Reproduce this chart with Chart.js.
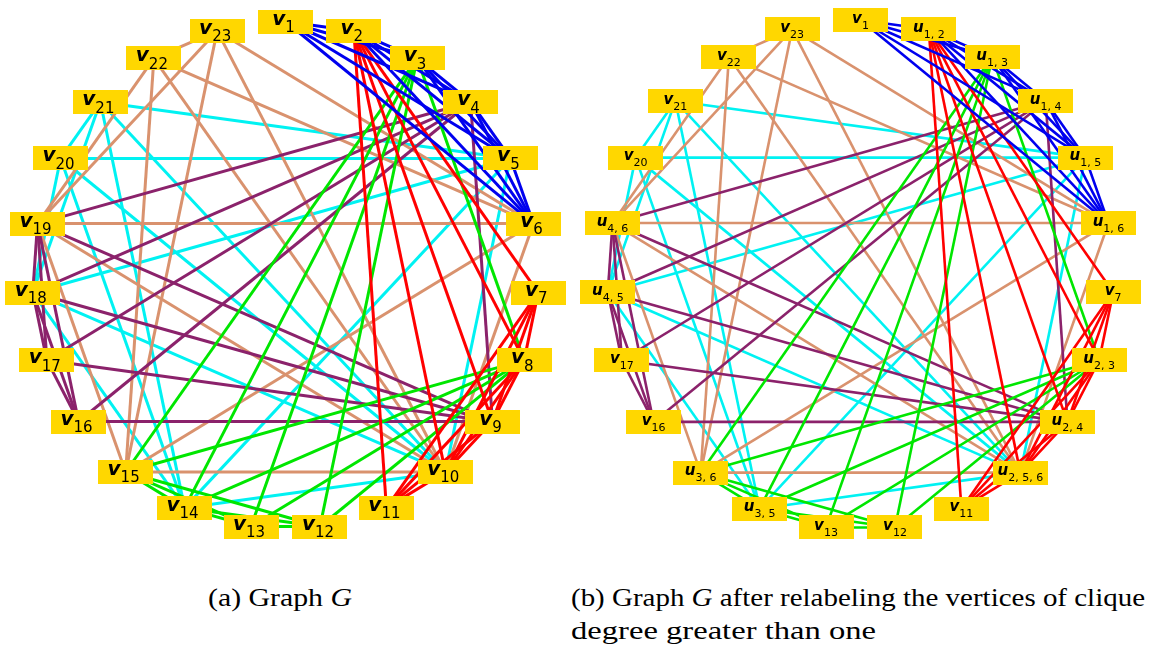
<!DOCTYPE html>
<html><head><meta charset="utf-8">
<script src="https://cdn.jsdelivr.net/npm/chart.js@4.4.1/dist/chart.umd.min.js"></script>
<style>
html,body{margin:0;padding:0;background:#fff;width:1151px;height:647px;overflow:hidden;position:relative;}
canvas{position:absolute;top:0;}
#cl{left:0}
#cr{left:575px}
.cap{position:absolute;font-family:"Liberation Serif","DejaVu Serif",serif;font-size:26px;white-space:nowrap;transform-origin:0 0;color:#000;line-height:1}
</style></head><body>
<canvas id="cl" width="575" height="560"></canvas>
<canvas id="cr" width="576" height="560"></canvas>
<div class="cap" id="capA" style="left:208px;top:585px">(a) Graph <i>G</i></div>
<div class="cap" id="capB1" style="left:571px;top:585px">(b) Graph <i>G</i> after relabeling the vertices of clique</div>
<div class="cap" id="capB2" style="left:571px;top:618px">degree greater than one</div>
<script>
// ---- data ----
const leftLabels = ['v1','v2','v3','v4','v5','v6','v7','v8','v9','v10','v11','v12','v13','v14','v15','v16','v17','v18','v19','v20','v21','v22','v23'];
const rightLabels = ['v1','u1, 2','u1, 3','u1, 4','u1, 5','u1, 6','v7','u2, 3','u2, 4','u2, 5, 6','v11','v12','v13','u3, 5','u3, 6','v16','v17','u4, 5','u4, 6','v20','v21','v22','v23'];
// cliques (vertex numbers, 1-based)
const cliques = [
  [1,2,3,4,5,6],
  [2,7,8,9,10,11],
  [3,8,12,13,14,15],
  [4,9,16,17,18,19],
  [5,10,14,18,20,21],
  [6,10,15,19,22,23]
];
const cliqueColors = ['#0000ee','#ff0000','#00e600','#8b226b','#00f2f2','#d9926e'];
const cliqueLayer = [0,1,2,3,5,4]; // lower = drawn on top
const captions = ['(a) Graph G','(b) Graph G after relabeling the vertices of clique','degree greater than one'];

// ---- circular layout (unit circle, vertex 1 at top, clockwise) ----
const N = leftLabels.length;
function nodePos(k){ const a = (k-1)*2*Math.PI/N; return {x:Math.sin(a), y:Math.cos(a)}; }

function buildDatasets(lw){
  const ds = [];
  cliques.forEach((cl,ci)=>{
    for(let i=0;i<cl.length;i++) for(let j=i+1;j<cl.length;j++){
      ds.push({
        data:[nodePos(cl[i]), nodePos(cl[j])],
        showLine:true, borderColor:cliqueColors[ci], borderWidth:lw,
        pointRadius:0, pointHoverRadius:0, order:cliqueLayer[ci], clip:false,
        borderCapStyle:'butt'
      });
    }
  });
  return ds;
}

function labelPlugin(labels, cfg){
  return {
    id:'nodeLabels',
    afterDatasetsDraw(chart){
      const ctx = chart.ctx, xs = chart.scales.x, ys = chart.scales.y;
      ctx.save();
      labels.forEach((lab,idx)=>{
        const p = nodePos(idx+1);
        const cx = xs.getPixelForValue(p.x), cy = ys.getPixelForValue(p.y);
        ctx.fillStyle = '#ffd700';
        ctx.fillRect(Math.round(cx-cfg.bw/2), Math.round(cy-cfg.bh/2), cfg.bw, cfg.bh);
        const letter = lab[0], sub = lab.slice(1);
        ctx.font = cfg.letterFont; const lw = ctx.measureText(letter).width;
        ctx.font = cfg.subFont; const sw = ctx.measureText(sub).width;
        const x0 = cx - (lw+sw)/2 + cfg.dx;
        ctx.fillStyle = '#000';
        ctx.textBaseline = 'alphabetic'; ctx.textAlign = 'left';
        ctx.font = cfg.letterFont; ctx.fillText(letter, x0, cy+cfg.letterDy);
        ctx.font = cfg.subFont; ctx.fillText(sub, x0+lw, cy+cfg.subDy);
      });
      ctx.restore();
    }
  };
}

function makeChart(id, labels, pad, lw, cfg){
  return new Chart(document.getElementById(id), {
    type:'scatter',
    data:{datasets:buildDatasets(lw)},
    options:{
      responsive:false, animation:false, devicePixelRatio:1,
      layout:{padding:pad},
      plugins:{legend:{display:false}, tooltip:{enabled:false}},
      events:[],
      scales:{
        x:{type:'linear', min:-1, max:1, display:false},
        y:{type:'linear', min:-1, max:1, display:false}
      }
    },
    plugins:[labelPlugin(labels, cfg)]
  });
}

makeChart('cl', leftLabels, {left:32.2, right:36.2, top:21.5, bottom:31.1}, 3, {
  bw:55, bh:24, letterFont:'italic bold 20px "DejaVu Sans"', subFont:'15px "DejaVu Sans"',
  letterDy:3, subDy:10.5, dx:-2
});
makeChart('cr', rightLabels, {left:32.2, right:37.2, top:20, bottom:30.2}, 2.6, {
  bw:55, bh:24, letterFont:'italic bold 15px "DejaVu Sans"', subFont:'11px "DejaVu Sans"',
  letterDy:2.8, subDy:8.8, dx:0
});

// fit captions to measured widths
function fit(id, w){ const el=document.getElementById(id); const r=el.getBoundingClientRect().width; el.style.transform='scaleX('+(w/r)+')'; }
fit('capA',144); fit('capB1',574); fit('capB2',305);
</script>
</body></html>
